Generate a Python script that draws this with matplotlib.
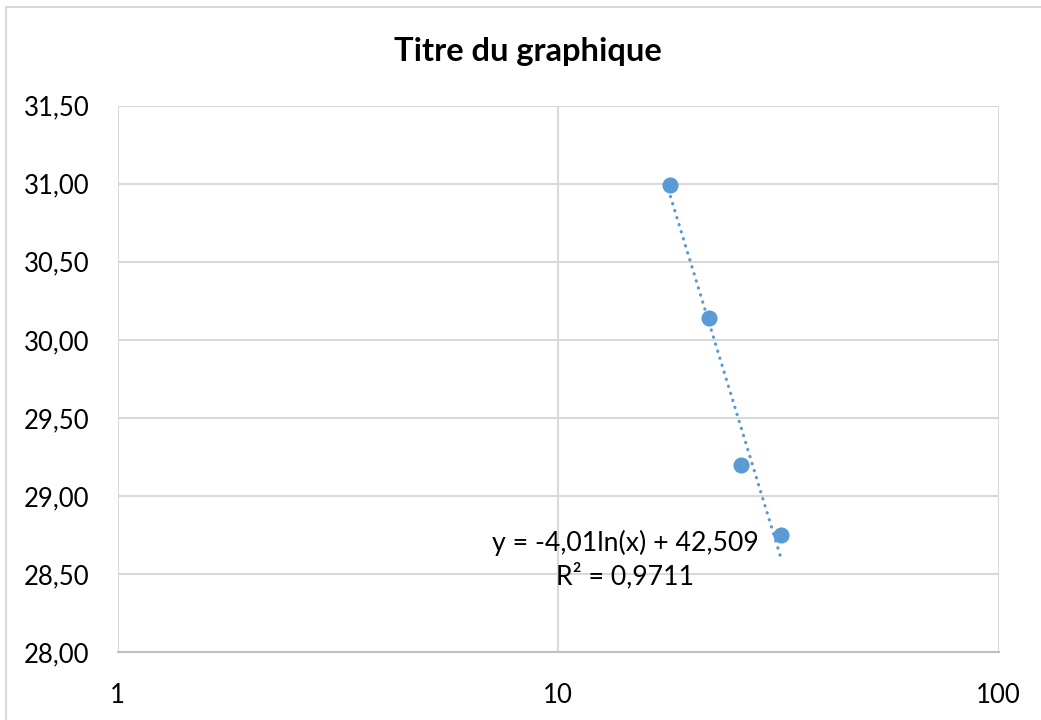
import matplotlib
matplotlib.use("Agg")
import matplotlib.pyplot as plt
from matplotlib.lines import Line2D
from matplotlib.ticker import FuncFormatter, FixedLocator, NullLocator
import numpy as np

# Measured points
x_vals = [18, 22, 26, 32]
y_vals = [30.99, 30.14, 29.20, 28.75]

# Log trendline as reported
slope = -4.01
intercept = 42.509
r2 = 0.9711

title = "Titre du graphique"
x_ticks = [1, 10, 100]
y_ticks = [28.0, 28.5, 29.0, 29.5, 30.0, 30.5, 31.0, 31.5]

blue = "#5B9BD5"
grid_col = "#D9D9D9"

plt.rcParams['font.family'] = ['Lato', 'DejaVu Sans']

W, H = 1041, 720
fig = plt.figure(figsize=(W / 100, H / 100), dpi=100)
ax = fig.add_axes([117.5 / W, 1 - 652 / H, (998.5 - 117.5) / W, (652 - 105.7) / H])

ax.set_xscale('log')
ax.set_xlim(1, 100)
ax.set_ylim(28, 31.5)

ax.xaxis.set_major_locator(FixedLocator(x_ticks))
ax.xaxis.set_minor_locator(NullLocator())
ax.xaxis.set_major_formatter(FuncFormatter(lambda v, p: f"{v:g}"))
ax.yaxis.set_major_locator(FixedLocator(y_ticks))
ax.yaxis.set_major_formatter(FuncFormatter(lambda v, p: f"{v:.2f}".replace('.', ',')))

ax.grid(True, color=grid_col, linewidth=1.5)
ax.set_axisbelow(True)
for side in ['top', 'left', 'right']:
    ax.spines[side].set_visible(False)
ax.spines['bottom'].set_color('#BFBFBF')
ax.spines['bottom'].set_linewidth(1.5)
ax.tick_params(axis='both', length=0, labelsize=18.5, colors='black')
ax.tick_params(axis='y', pad=20)
ax.tick_params(axis='x', pad=22)

# trendline between the first and last point
xt = np.linspace(min(x_vals), max(x_vals), 200)
yt = slope * np.log(xt) + intercept
ax.plot(xt, yt, color=blue, linewidth=2.3, linestyle=(0, (0.1, 2.2)),
        dash_capstyle='round', zorder=2)

ax.scatter(x_vals, y_vals, s=135, color=blue, zorder=3, linewidths=0)

eq = f"y = {slope:.2f}ln(x) + {intercept:.3f}".replace('.', ',')
r2_txt = f"R² = {r2:.4f}".replace('.', ',')
ax.text(14.2, 28.59, eq + "\n" + r2_txt, ha='center', va='center',
        fontsize=19.2, linespacing=1.3)

fig.text(528 / W, 1 - 51 / H, title, ha='center', va='center',
         fontsize=23.5, fontweight='bold')

# chart area border
fig.add_artist(Line2D([6 / W, 6 / W], [0, 1 - 7 / H], color=grid_col, linewidth=1.5))
fig.add_artist(Line2D([6 / W, 1], [1 - 7 / H, 1 - 7 / H], color=grid_col, linewidth=1.5))

fig.savefig("out.png", dpi=100)
